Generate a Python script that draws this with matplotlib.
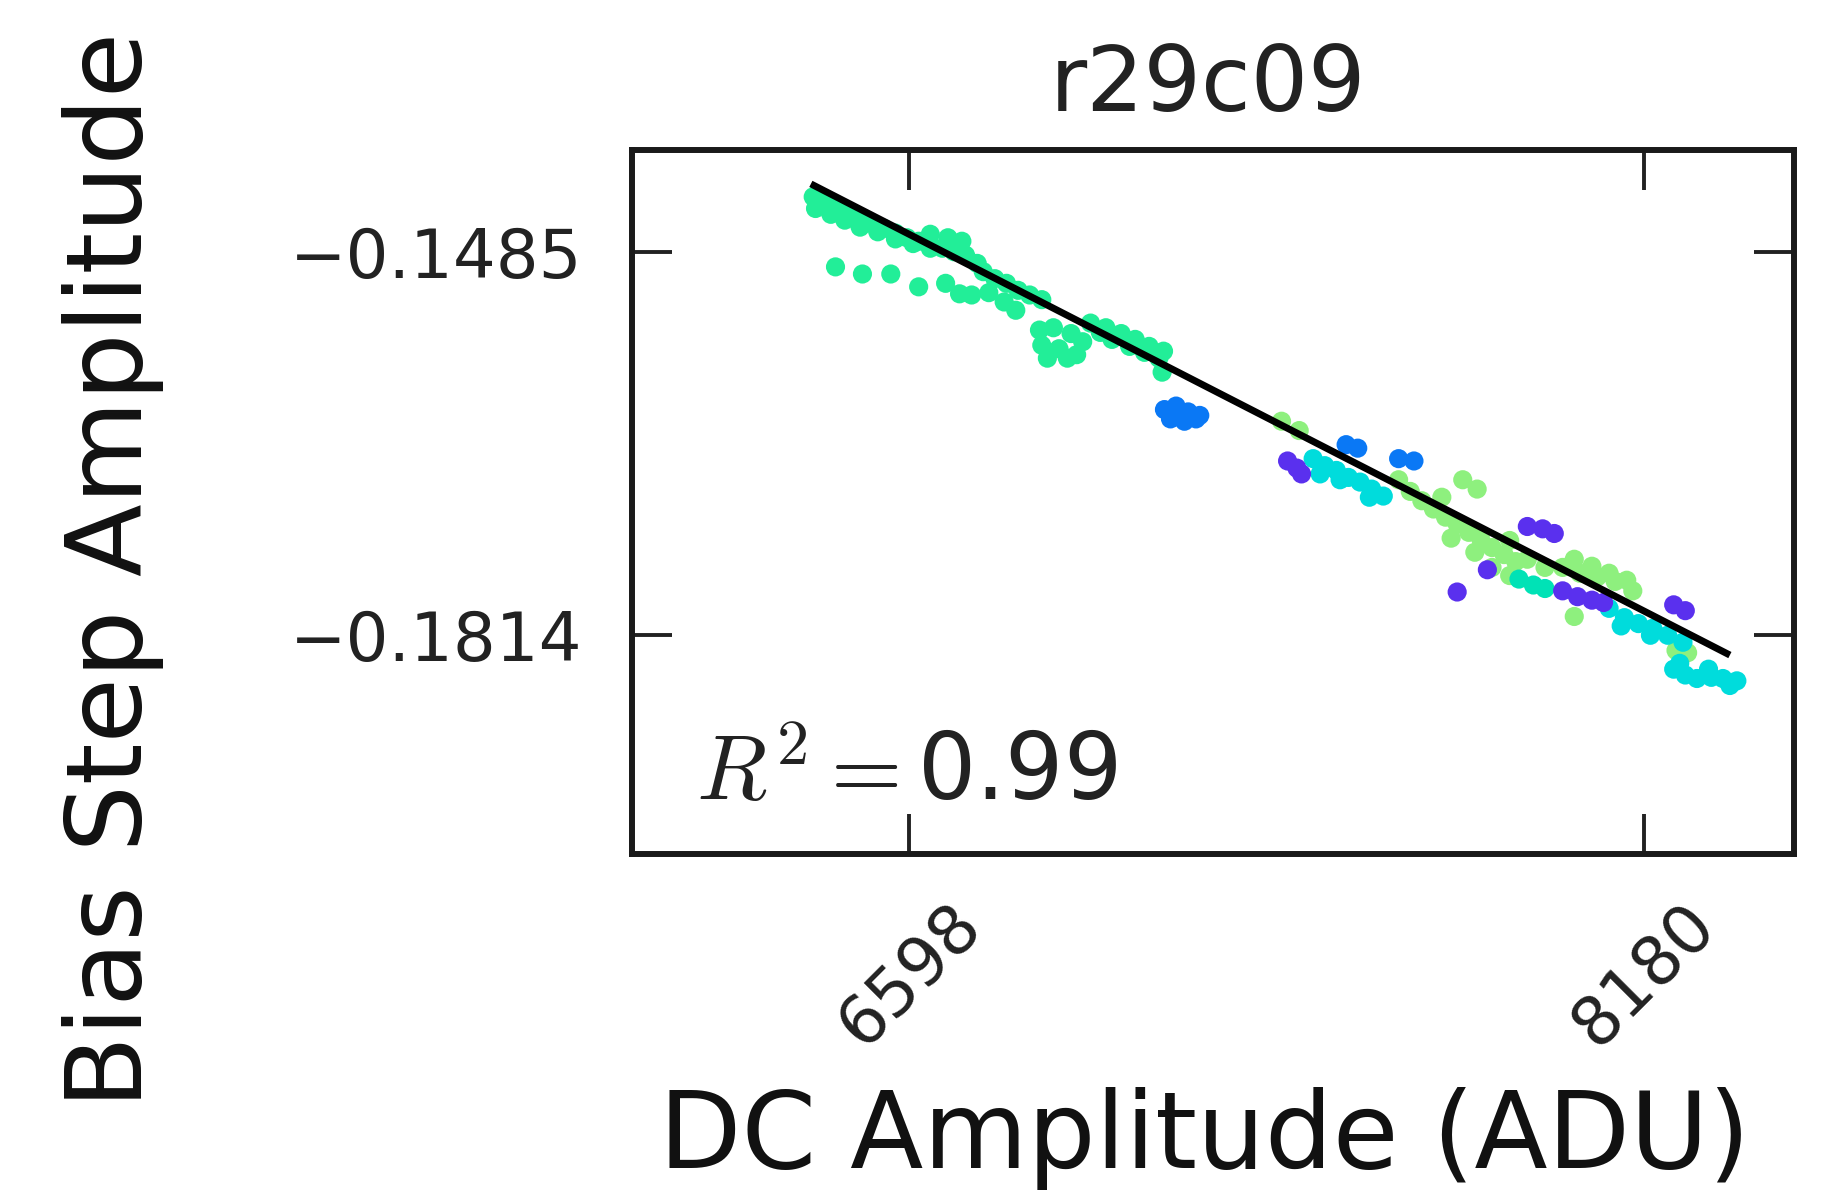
import matplotlib
matplotlib.use("Agg")
import matplotlib.pyplot as plt

plt.rcParams['font.family'] = ['DejaVu Sans']
plt.rcParams['mathtext.fontset'] = 'cm'

title = "r29c09"
xlabel = "DC Amplitude (ADU)"
ylabel = "Bias Step Amplitude"
r2_text = r"$R^2=$" + "0.99"

xticks = [6598, 8180]
xtick_labels = ["6598", "8180"]
yticks = [-0.1485, -0.1814]
ytick_labels = ["\u22120.1485", "\u22120.1814"]
xlim = (6001, 8502)
ylim = (-0.20016, -0.13977)

# fit line end points
fit_x = [6386, 8364]
fit_y = [-0.14268, -0.18310]

# spring-green points (early samples)
green_x = [6391, 6417, 6442, 6467, 6492, 6517, 6543, 6568, 6593, 6618, 6643, 6669, 6694, 6719,
           6396, 6429, 6459, 6492, 6530, 6568, 6606, 6643, 6643, 6681, 6711,
           6757, 6782, 6807, 6832, 6857, 6883, 6769, 6802, 6827, 6744,
           6439, 6497, 6558, 6618, 6676, 6706, 6732,
           6878, 6908, 6946, 6971, 6883, 6920, 6958, 6895, 6938,
           7021, 7054, 7084, 7114, 7145, 7034, 7072, 7104, 7135, 7142, 6988, 7009]
green_y = [-0.14379, -0.14419, -0.14479, -0.14519, -0.14559, -0.14609, -0.14649, -0.14690,
           -0.14730, -0.14760, -0.14790, -0.14820, -0.14850, -0.14880,
           -0.14479, -0.14529, -0.14579, -0.14639, -0.14679, -0.14740, -0.14780, -0.14820,
           -0.14700, -0.14730, -0.14760,
           -0.15021, -0.15081, -0.15121, -0.15181, -0.15221, -0.15261, -0.15201, -0.15281,
           -0.15352, -0.14950,
           -0.14980, -0.15041, -0.15041, -0.15151, -0.15121, -0.15211, -0.15221,
           -0.15522, -0.15502, -0.15552, -0.15622, -0.15652, -0.15682, -0.15733, -0.15763,
           -0.15763,
           -0.15502, -0.15552, -0.15602, -0.15662, -0.15703, -0.15602, -0.15662, -0.15713,
           -0.15763, -0.15883, -0.15462, -0.15542]

# light-green points
lgreen_x = [7651, 7676, 7701, 7726, 7752, 7777, 7802, 7827, 7852, 7878, 7903, 7928, 7966, 8004,
            8041, 8079, 8117, 8155, 7789, 7820, 7744, 7890, 8029, 8067, 8104, 8142, 7764, 7815,
            7852, 7890, 8029, 8273, 8248, 7399, 7437]
lgreen_y = [-0.16806, -0.16906, -0.16986, -0.17057, -0.17127, -0.17187, -0.17257, -0.17307,
            -0.17388, -0.17448, -0.17508, -0.17488, -0.17558, -0.17558, -0.17608, -0.17638,
            -0.17678, -0.17759, -0.16806, -0.16886, -0.16956, -0.17327, -0.17488, -0.17548,
            -0.17608, -0.17668, -0.17307, -0.17428, -0.17558, -0.17628, -0.17979, -0.18290,
            -0.18270, -0.16304, -0.16384]

# aqua points
aqua_x = [7910, 7941, 7966]
aqua_y = [-0.17658, -0.17709, -0.17739]

# cyan points
cyan_x = [7467, 7492, 7517, 7543, 7568, 7593, 7618, 7482, 7525, 7588,
          8104, 8137, 8167, 8198, 8230, 8263, 8130, 8193,
          8243, 8268, 8293, 8324, 8349, 8379, 8256, 8318, 8364]
cyan_y = [-0.16625, -0.16685, -0.16726, -0.16786, -0.16826, -0.16886, -0.16946, -0.16756,
          -0.16806, -0.16956,
          -0.17909, -0.17989, -0.18040, -0.18080, -0.18140, -0.18200, -0.18060, -0.18140,
          -0.18431, -0.18481, -0.18511, -0.18501, -0.18511, -0.18531, -0.18381, -0.18431,
          -0.18571]

# blue points
blue_x = [7147, 7172, 7198, 7223, 7160, 7190, 7215, 7538, 7563, 7651, 7684]
blue_y = [-0.16204, -0.16174, -0.16224, -0.16254, -0.16284, -0.16304, -0.16284,
          -0.16505, -0.16535, -0.16625, -0.16645]

# purple points
purple_x = [7412, 7432, 7442, 7928, 7961, 7986, 7777, 7842, 8004, 8036, 8067, 8092, 8243, 8268]
purple_y = [-0.16645, -0.16706, -0.16756, -0.17207, -0.17227, -0.17267, -0.17769, -0.17578,
            -0.17759, -0.17809, -0.17839, -0.17859, -0.17879, -0.17929]

fig = plt.figure(figsize=(18.34, 11.95), dpi=100, facecolor="white")
ax = fig.add_axes([0.3446, 0.2854, 0.6336, 0.5891])

msize = 190
groups = [
    (green_x, green_y, "#22ee98"),
    (lgreen_x, lgreen_y, "#8ef07e"),
    (aqua_x, aqua_y, "#00e2b6"),
    (cyan_x, cyan_y, "#00dcdc"),
    (blue_x, blue_y, "#0a78f5"),
    (purple_x, purple_y, "#5a30ee"),
]
for gx, gy, col in groups:
    ax.scatter(gx, gy, s=msize, c=col, edgecolors="none", zorder=2)

ax.plot(fit_x, fit_y, color="black", lw=5.0, zorder=3, solid_capstyle="butt")

ax.set_xlim(*xlim)
ax.set_ylim(*ylim)
ax.set_xticks(xticks)
ax.set_xticklabels(xtick_labels, rotation=45)
ax.set_yticks(yticks)
ax.set_yticklabels(ytick_labels)
ax.tick_params(direction="in", top=True, right=True, length=29, width=2.8,
               labelsize=48.5, color="#222222", labelcolor="#222222")
ax.tick_params(axis="y", pad=36)
ax.tick_params(axis="x", pad=27)
for sp in ax.spines.values():
    sp.set_linewidth(4.3)
    sp.set_color("#1a1a1a")

ax.set_title(title, fontsize=65, pad=28, color="#222222", x=0.4955)
ax.set_xlabel(xlabel, fontsize=77, color="#111111")
ax.xaxis.set_label_coords(0.4925, -0.331)
ax.set_ylabel(ylabel, fontsize=76.5, color="#111111")
ax.yaxis.set_label_coords(-0.403, 0.4037)
ax.text(0.055, 0.077, r2_text, transform=ax.transAxes, fontsize=66,
        ha="left", va="baseline", color="#222222")

fig.savefig("out.png", dpi=100, facecolor="white")
